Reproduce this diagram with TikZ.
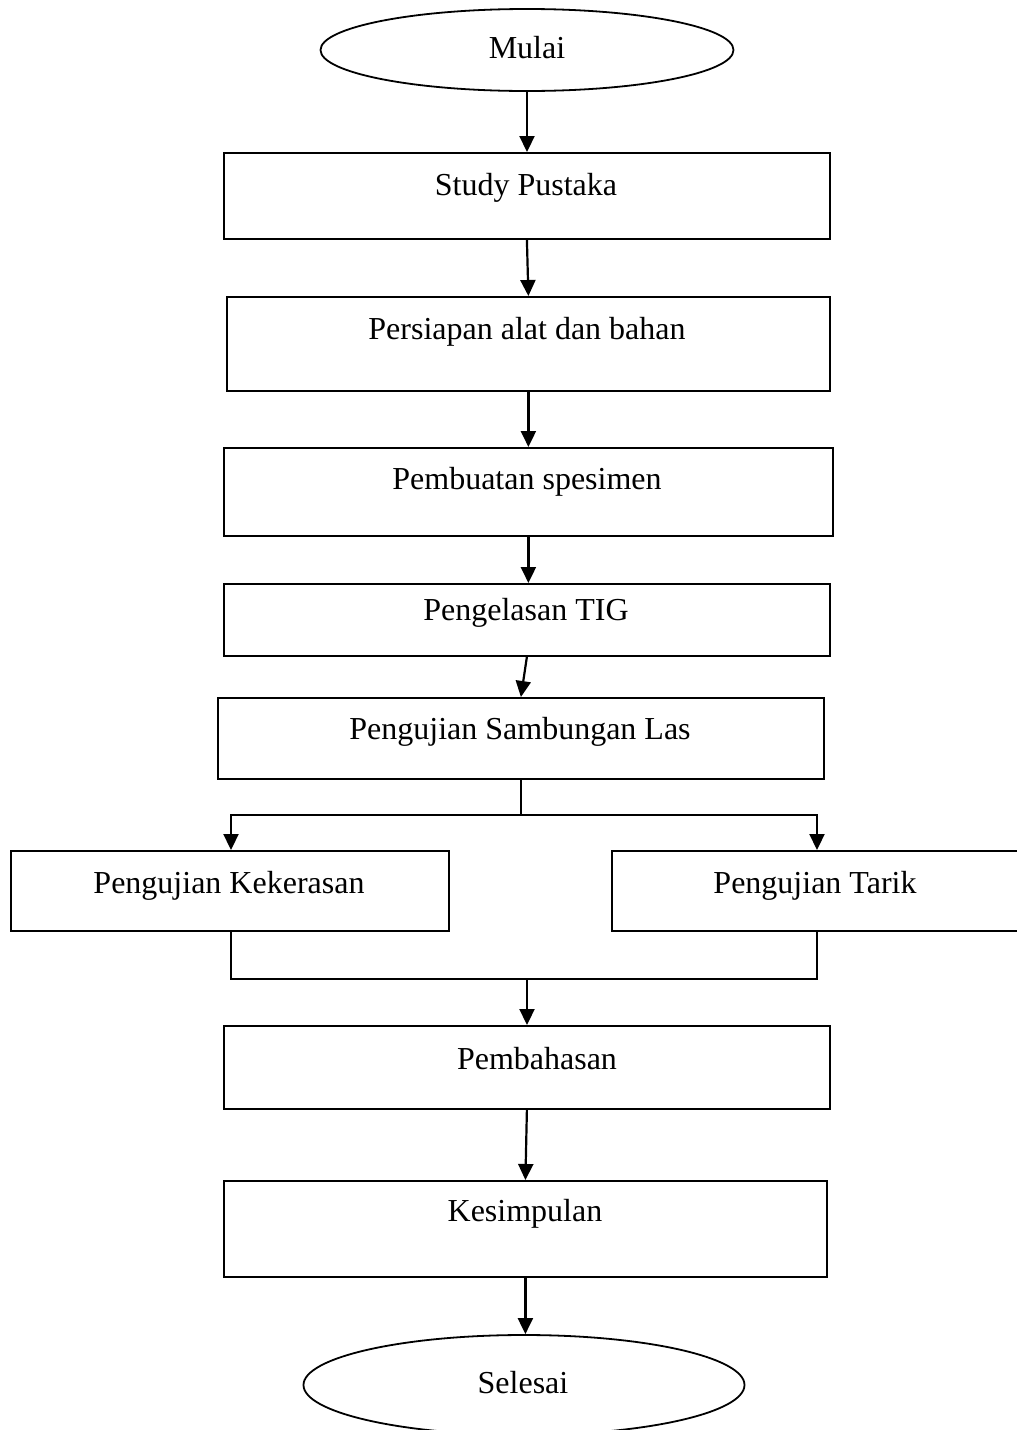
\documentclass[tikz,border=0pt]{standalone}
\usepackage{fontspec}
\setmainfont{Liberation Serif}
\usetikzlibrary{shapes.geometric,arrows.meta,calc}
\begin{document}
\begin{tikzpicture}[x=1pt,y=-1pt,
 box/.style={draw,line width=1.8pt,rectangle,inner sep=0pt,anchor=north west},
 term/.style={draw,line width=1.8pt,ellipse,inner sep=0pt},
 lbl/.style={font=\fontsize{32}{36}\selectfont,inner sep=0pt,anchor=mid,yshift=-8pt},
 arr/.style={line width=2.2pt,-{Triangle[length=16pt,width=15pt]}},
 ln/.style={line width=2.2pt}]
\useasboundingbox (0,0) rectangle (1017,1430);
% terminals
\node[term,minimum width=413pt,minimum height=82pt] (m) at (527,50) {};
\node[lbl] (tm) at (527,48) {Mulai};
\node[term,minimum width=441pt,minimum height=100pt] (s) at (524,1385) {};
\node[lbl] (ts) at (523,1383) {Selesai};
% boxes
\node[box,minimum width=606pt,minimum height=86pt] (b1) at (223,152) {};
\node[lbl] (t1) at (526,185) {Study Pustaka};
\node[box,minimum width=603pt,minimum height=94pt] (b2) at (226,296) {};
\node[lbl] (t2) at (527,329) {Persiapan alat dan bahan};
\node[box,minimum width=609pt,minimum height=88pt] (b3) at (223,447) {};
\node[lbl] (t3) at (527,479) {Pembuatan spesimen};
\node[box,minimum width=606pt,minimum height=72pt] (b4) at (223,583) {};
\node[lbl] (t4) at (526,610) {Pengelasan TIG};
\node[box,minimum width=606pt,minimum height=81pt] (b5) at (217,697) {};
\node[lbl] (t5) at (520,729) {Pengujian Sambungan Las};
\node[box,minimum width=438pt,minimum height=80pt] (b6) at (10,850) {};
\node[lbl] (t6) at (229,883) {Pengujian Kekerasan};
\node[box,minimum width=412pt,minimum height=80pt] (b7) at (611,850) {};
\node[lbl] (t7) at (815,883) {Pengujian Tarik};
\node[box,minimum width=606pt,minimum height=83pt] (b8) at (223,1025) {};
\node[lbl] (t8) at (537,1059) {Pembahasan};
\node[box,minimum width=603pt,minimum height=96pt] (b9) at (223,1180) {};
\node[lbl] (t9) at (525,1211) {Kesimpulan};
% connectors
\draw[arr] (m.south) -- (m.south |- b1.north);
\draw[arr] (b1.south) -- (b2.north);
\draw[arr] (b2.south) -- (b2.south |- b3.north);
\draw[arr] (b3.south) -- (b3.south |- b4.north);
\draw[arr] (b4.south) -- (b5.north);
\coordinate (jl) at (231,815);
\coordinate (jr) at (817,815);
\coordinate (jm) at (b5.south |- jl);
\draw[ln] (b5.south) -- (jm);
\draw[arr] (jm) -- (jl) -- (jl |- b6.north);
\draw[arr] (jm) -- (jr) -- (jr |- b7.north);
\coordinate (kl) at (231,979);
\coordinate (kr) at (817,979);
\coordinate (km) at (527,979);
\draw[ln] (kl |- b6.south) -- (kl) -- (kr) -- (kr |- b7.south);
\draw[arr] (km) -- (km |- b8.north);
\draw[arr] (b8.south) -- (b9.north);
\draw[arr] (b9.south) -- (b9.south |- s.north);
\end{tikzpicture}
\end{document}
